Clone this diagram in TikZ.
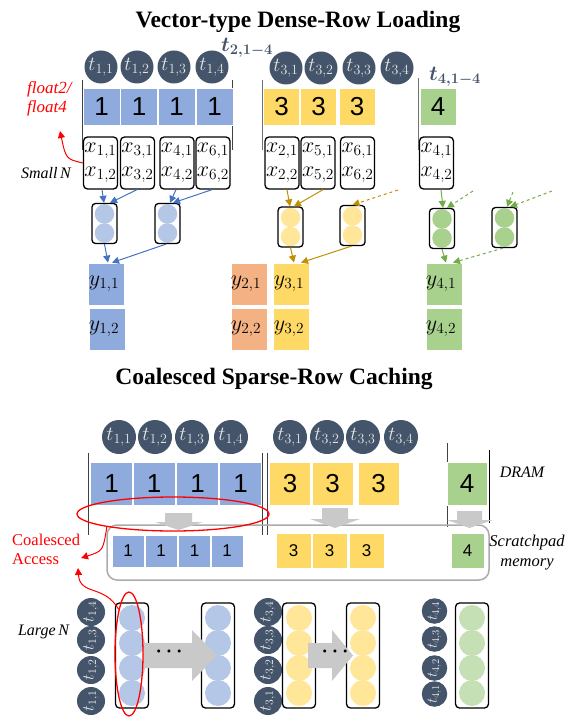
\RequirePackage{fix-cm}
\documentclass[tikz,border=0pt]{standalone}
\usepackage{fontspec}
\setmainfont{Liberation Serif}
\newfontfamily\arialf{Liberation Sans}
\usetikzlibrary{arrows.meta,shapes.geometric}
\definecolor{slate}{HTML}{44546A}
\definecolor{thrtext}{HTML}{E4E4E4}
\definecolor{cellB}{HTML}{8FAADC}
\definecolor{cellY}{HTML}{FFD966}
\definecolor{cellG}{HTML}{A9D18E}
\definecolor{cellO}{HTML}{F4B183}
\definecolor{circB}{HTML}{B4C7E7}
\definecolor{circY}{HTML}{FFE699}
\definecolor{circG}{HTML}{A9D18E}
\definecolor{circGL}{HTML}{C5E0B4}
\definecolor{arrB}{HTML}{4472C4}
\definecolor{arrY}{HTML}{BF9000}
\definecolor{arrG}{HTML}{70AD47}
\definecolor{grayA}{HTML}{C9C9C9}
\definecolor{spgray}{HTML}{ABABAB}
\begin{document}
\begin{tikzpicture}[x=1pt,y=-1pt,
  ttl/.style={font=\fontsize{23.5}{23.5}\selectfont\bfseries,inner sep=0pt},
  thr/.style={circle,fill=slate,minimum size=#1,inner sep=0pt,text=thrtext,font=\fontsize{20}{20}\selectfont},
  thr/.default=33,
  slabel/.style={text=slate,font=\fontsize{21}{21}\selectfont\boldmath,inner sep=0pt},
  cell/.style n args={3}{fill=#1,draw=white,line width=0.8pt,minimum width=#2,minimum height=#3,inner sep=0pt},
  dig/.style={font=\arialf\fontsize{26}{26}\selectfont},
  sdig/.style={font=\arialf\fontsize{17}{17}\selectfont},
  xbox/.style={draw=black,line width=1.3pt,rounded corners=4pt,minimum width=34,minimum height=52,inner sep=0pt},
  xtxt/.style={font=\fontsize{22}{24}\selectfont,align=center,inner sep=0pt},
  caps/.style={draw=black,line width=1.3pt,rounded corners=3.5pt,minimum width=25,minimum height=40,inner sep=0pt},
  lcaps/.style={draw=black,line width=1.3pt,rounded corners=4pt,minimum width=33,minimum height=105,inner sep=0pt},
  ball/.style={circle,fill=#1,minimum size=19.5,inner sep=0pt},
  lball/.style={circle,fill=#1,minimum size=26,inner sep=0pt},
  ytxt/.style={font=\fontsize{22}{22}\selectfont,inner sep=0pt},
  sepline/.style={draw=black!75,line width=0.9pt},
  arrb/.style={draw=arrB,line width=1pt,-{Triangle[length=7pt,width=7pt]}},
  arry/.style={draw=arrY,line width=1pt,-{Triangle[length=7pt,width=7pt]}},
  arrg/.style={draw=arrG,line width=1pt,-{Triangle[length=7pt,width=7pt]}},
  redarr/.style={draw=red,line width=1pt,-{Triangle[length=7pt,width=7pt]}},
  itl/.style={font=\fontsize{16}{19}\selectfont\itshape,inner sep=0pt},
  redell/.style={ellipse,draw=red,line width=1.3pt,inner sep=0pt}
]
\useasboundingbox (0,0) rectangle (581,727);

% ---------- titles ----------
\node[ttl] (title1) at (298,22) {Vector-type Dense-Row Loading};
\node[ttl] (title2) at (274,379) {Coalesced Sparse-Row Caching};

% ---------- top threads ----------
\node[thr] (a1) at (101,67) {$t_{1,1}$};
\node[thr] (a2) at (137,67) {$t_{1,2}$};
\node[thr] (a3) at (174,67) {$t_{1,3}$};
\node[thr] (a4) at (212,67) {$t_{1,4}$};
\node[thr] (c1) at (286,68) {$t_{3,1}$};
\node[thr] (c2) at (321,68) {$t_{3,2}$};
\node[thr] (c3) at (359,68) {$t_{3,3}$};
\node[thr] (c4) at (397,68) {$t_{3,4}$};
\node[slabel] (t2lab) at (247,48) {$t_{2,1-4}$};
\node[slabel] (t4lab) at (455,77) {$t_{4,1-4}$};

% separators (top)
\draw[sepline] (82,80) -- (82,150);
\draw[sepline] (232,80) -- (232,150);
\draw[sepline,draw=black!55] (262,80) -- (262,150);
\draw[sepline,draw=black!55] (418,78) -- (418,150);

% top data cells
\node[cell={cellB}{37}{37},dig] (b1) at (101.5,106.5) {1};
\node[cell={cellB}{37}{37},dig] (b2) at (139,106.5) {1};
\node[cell={cellB}{37}{37},dig] (b3) at (176.5,106.5) {1};
\node[cell={cellB}{37}{37},dig] (b4) at (214.5,106.5) {1};
\node[cell={cellY}{36}{37},dig] (y1) at (281.5,106.5) {3};
\node[cell={cellY}{36}{37},dig] (y2) at (318.5,106.5) {3};
\node[cell={cellY}{36}{37},dig] (y3) at (357,106.5) {3};
\node[cell={cellG}{36}{37},dig] (g1) at (438,106.5) {4};

\node[font=\fontsize{17}{19}\selectfont\itshape,text=red,align=left,anchor=west,inner sep=0pt] (flt) at (27,99) {float2/\\float4};
\node[itl] (smalln) at (46,173) {Small\,N};

% x boxes
\foreach \n/\x/\a/\b in {xb1/100.5/1/1, xb2/137.5/3/1, xb3/177/4/1, xb4/213/6/1, xy1/282/2/3, xy2/318/5/3, xy3/357.5/6/3, xg1/436.5/4/4}{
  \node[xbox] (\n) at (\x,163) {};
  \node[xtxt] (\n t) at (\x,163) {$x_{\a,1}$\\$x_{\a,2}$};
}

\coordinate (fltA) at (60,131);
\draw[redarr] (xb1.west) .. controls (66,159) .. (fltA);

% top capsules
\foreach \n/\x/\y/\c in {cb1/104.5/223.5/circB, cb2/167.5/223.5/circB, cy1/290.5/227/circY, cy2/352.5/225.5/circY, cg1/442/228.5/circG, cg2/504.5/227.5/circG}{
  \node[ball=\c] (\n u) at (\x,\y-9.5) {};
  \node[ball=\c] (\n d) at (\x,\y+9.5) {};
  \node[caps] (\n) at (\x,\y) {};
}

% output cells
\node[cell={cellB}{36}{42}] (ob1) at (106.5,284) {};
\node[cell={cellB}{36}{42}] (ob2) at (107,329) {};
\node[cell={cellO}{36}{42}] (oo1) at (249,284) {};
\node[cell={cellO}{36}{42}] (oo2) at (249,329) {};
\node[cell={cellY}{36}{42}] (oy1) at (291.5,284) {};
\node[cell={cellY}{36}{42}] (oy2) at (291.5,329) {};
\node[cell={cellG}{36}{42}] (og1) at (444,284) {};
\node[cell={cellG}{36}{42}] (og2) at (444,329) {};
\node[ytxt] at (104,284) {$y_{1,1}$};
\node[ytxt] at (104,329) {$y_{1,2}$};
\node[ytxt] at (246,284) {$y_{2,1}$};
\node[ytxt] at (246,329) {$y_{2,2}$};
\node[ytxt] at (289,284) {$y_{3,1}$};
\node[ytxt] at (289,329) {$y_{3,2}$};
\node[ytxt] at (441,284) {$y_{4,1}$};
\node[ytxt] at (441,329) {$y_{4,2}$};

% top arrows blue
\draw[arrb] ([xshift=1.5pt]xb1.south) -- ([xshift=-0.5pt]cb1.north);
\draw[arrb] ([xshift=-0.5pt]xb2.south) -- ([xshift=5.5pt]cb1.north);
\draw[arrb] ([xshift=-1pt]xb3.south) -- ([xshift=2.5pt]cb2.north);
\draw[arrb] ([xshift=-1pt]xb4.south) -- ([xshift=5.5pt]cb2.north);
\draw[arrb] (cb1.south) -- ([xshift=1.5pt]ob1.north);
\draw[arrb] ([xshift=-1.5pt]cb2.south) -- ([xshift=5.5pt]ob1.north);
% yellow
\coordinate (dy1) at (398,190);
\draw[arry] ([xshift=5pt]xy1.south) -- ([xshift=-0.5pt]cy1.north);
\draw[arry] ([xshift=5pt]xy2.south) -- ([xshift=3.5pt]cy1.north);
\draw[arry,dashed] (dy1) -- (cy2.north);
\draw[arry] (cy1.south) -- ([xshift=2.5pt]oy1.north);
\draw[arry] ([xshift=-1pt]cy2.south) -- ([xshift=9.5pt]oy1.north);
% green
\coordinate (dg1) at (473,191);
\coordinate (dg2) at (513,192);
\coordinate (dg3) at (552,191);
\draw[arrg] ([xshift=4.5pt]xg1.south) -- ([xshift=1pt]cg1.north);
\draw[arrg,dashed] (dg1) -- ([xshift=5pt]cg1.north);
\draw[arrg,dashed] (dg2) -- ([xshift=2.5pt]cg2.north);
\draw[arrg,dashed] (dg3) -- ([xshift=5.5pt]cg2.north);
\draw[arrg] (cg1.south) -- ([xshift=2pt]og1.north);
\draw[arrg,dashed] ([xshift=-1.5pt]cg2.south) -- ([xshift=9pt]og1.north);

% ---------- bottom threads ----------
\node[thr=34] (d1) at (119,437) {$t_{1,1}$};
\node[thr=34] (d2) at (155,437) {$t_{1,2}$};
\node[thr=34] (d3) at (192,437) {$t_{1,3}$};
\node[thr=34] (d4) at (231,437) {$t_{1,4}$};
\node[thr=34] (e1) at (290,437) {$t_{3,1}$};
\node[thr=34] (e2) at (327,437) {$t_{3,2}$};
\node[thr=34] (e3) at (363,437) {$t_{3,3}$};
\node[thr=34] (e4) at (401,437) {$t_{3,4}$};

% separators bottom
\draw[sepline] (88,453) -- (88,535);
\draw[sepline] (262,453) -- (262,535);
\draw[sepline] (267,453) -- (267,535);
\draw[sepline] (447,443) -- (447,527);
\draw[sepline,draw=black] (489,450) -- (489,523);

% DRAM cells
\node[cell={cellB}{42}{43},dig] (B1) at (111.5,483.5) {1};
\node[cell={cellB}{42}{43},dig] (B2) at (154,483.5) {1};
\node[cell={cellB}{42}{43},dig] (B3) at (197.5,483.5) {1};
\node[cell={cellB}{42}{43},dig] (B4) at (240.5,483.5) {1};
\node[cell={cellY}{41}{43},dig] (Y1) at (290,483.5) {3};
\node[cell={cellY}{41}{43},dig] (Y2) at (332.5,483.5) {3};
\node[cell={cellY}{41}{43},dig] (Y3) at (378.5,483.5) {3};
\node[cell={cellG}{40}{43},dig] (G1) at (467,483.5) {4};
\node[itl] (dram) at (522,472) {DRAM};

% scratchpad
\node[draw=spgray,line width=1.5pt,rounded corners=10pt,minimum width=382,minimum height=55,inner sep=0pt] (spad) at (298,552.5) {};

% gray down arrows
\fill[grayA] (165,513) -- (192,513) -- (192,522) -- (203,522) -- (178.5,530) -- (155,522) -- (165,522) -- cycle;
\fill[grayA] (322,508) -- (348,508) -- (348,519) -- (360,519) -- (335,528) -- (310,519) -- (322,519) -- cycle;
\fill[grayA] (457,511) -- (482,511) -- (482,520) -- (493,520) -- (469.5,528) -- (447,520) -- (457,520) -- cycle;

\node[cell={cellB}{32}{32},sdig] (S1) at (128,551) {1};
\node[cell={cellB}{32}{32},sdig] (S2) at (161,551) {1};
\node[cell={cellB}{32}{32},sdig] (S3) at (194.5,551) {1};
\node[cell={cellB}{32}{32},sdig] (S4) at (227,551) {1};
\node[cell={cellY}{35}{35},sdig] (SY1) at (293.5,550.5) {3};
\node[cell={cellY}{35}{35},sdig] (SY2) at (329.5,550.5) {3};
\node[cell={cellY}{35}{35},sdig] (SY3) at (366.5,550.5) {3};
\node[cell={cellG}{33}{35},sdig] (SG1) at (467.5,550.5) {4};
\node[itl,align=center,font=\fontsize{16.5}{20}\selectfont\itshape] (spm) at (527,553) {Scratchpad\\memory};

% red ellipse (coalesced)
\node[redell,minimum width=192,minimum height=34] (ell1) at (173,514) {};
\node[font=\fontsize{16.5}{19.5}\selectfont,text=red,align=left,anchor=west,inner sep=0pt] (coa) at (12,549.5) {Coalesced\\Access};
\coordinate (coaA) at (81,558);
\coordinate (coaB) at (78,568);
\draw[redarr] (ell1.191) .. controls (103,551) .. (coaA);

% ---------- Large N ----------
\node[itl] (largen) at (43.5,632) {Large\,N};

\foreach \n/\x/\l in {f/91/1, g/268/3}{
  \node[thr=28,rotate=90,font=\fontsize{16.5}{16.5}\selectfont] (\n1) at (\x,701) {$t_{\l,1}$};
  \node[thr=28,rotate=90,font=\fontsize{16.5}{16.5}\selectfont] (\n2) at (\x,670) {$t_{\l,2}$};
  \node[thr=28,rotate=90,font=\fontsize{16.5}{16.5}\selectfont] (\n3) at (\x,640) {$t_{\l,3}$};
  \node[thr=28,rotate=90,font=\fontsize{16.5}{16.5}\selectfont] (\n4) at (\x,612) {$t_{\l,4}$};
}
\node[thr=25.5,rotate=90,font=\fontsize{15}{15}\selectfont] (h1) at (434.5,694) {$t_{4,1}$};
\node[thr=25.5,rotate=90,font=\fontsize{15}{15}\selectfont] (h2) at (434.5,668) {$t_{4,2}$};
\node[thr=25.5,rotate=90,font=\fontsize{15}{15}\selectfont] (h3) at (434.5,639) {$t_{4,3}$};
\node[thr=25.5,rotate=90,font=\fontsize{15}{15}\selectfont] (h4) at (434.5,611) {$t_{4,4}$};

\foreach \n/\x/\c in {LB1/132/circB, LB2/218/circB, LY1/299/circY, LY2/363/circY, LG/472/circGL}{
  \node[lball=\c] (\n a) at (\x,618) {};
  \node[lball=\c] (\n b) at (\x,643) {};
  \node[lball=\c] (\n c) at (\x,668) {};
  \node[lball=\c] (\n d) at (\x,693) {};
  \node[lcaps] (\n) at (\x,655.5) {};
}

% gray right arrows
\fill[grayA] (143,643) -- (192,643) -- (192,630) -- (217,655.5) -- (192,681) -- (192,668) -- (143,668) -- cycle;
\fill[grayA] (308,643) -- (332,643) -- (332,630) -- (353,655.5) -- (332,681) -- (332,668) -- (308,668) -- cycle;
\node[font=\fontsize{20}{20}\selectfont\boldmath,inner sep=0pt] (dots1) at (169,652) {$\cdots$};
\node[font=\fontsize{20}{20}\selectfont\boldmath,inner sep=0pt] (dots2) at (335,652) {$\cdots$};

% red ellipse vertical
\node[redell,minimum width=28,minimum height=124] (ell2) at (129,654) {};
\draw[redarr] (ell2.103) .. controls (104,584) and (80,596) .. (coaB);

\end{tikzpicture}
\end{document}
